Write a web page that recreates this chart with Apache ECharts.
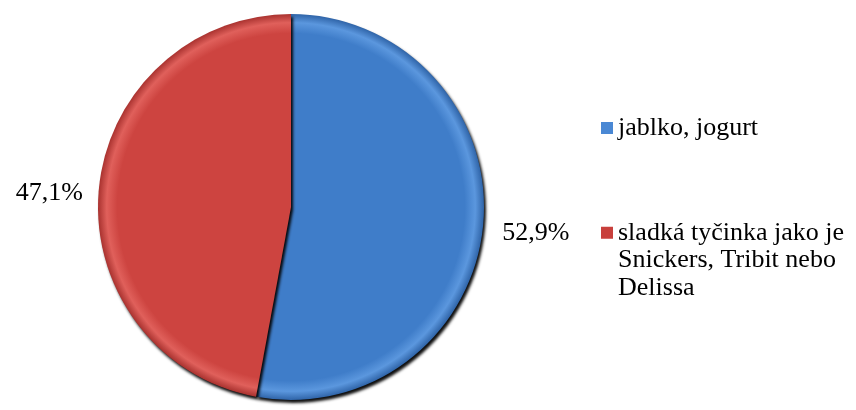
<!DOCTYPE html>
<html>
<head>
<meta charset="utf-8">
<script src="https://cdn.jsdelivr.net/npm/echarts@6/dist/echarts.min.js"></script>
<style>
  html, body { margin: 0; padding: 0; background: #ffffff; }
  #chart { width: 856px; height: 410px; }
</style>
</head>
<body>
<div id="chart"></div>
<script>
// Snack preference shares (percent)
const categories = ['jablko, jogurt', 'sladká tyčinka jako je\nSnickers, Tribit nebo\nDelissa'];
const values = [52.9, 47.1];
const baseColors = ['#3f7dc9', '#cd4440'];
const edgeColors = ['#5b97de', '#e0605b'];
const darkColors = ['#2f64a8', '#a9322f'];
const legendColors = ['#4a88d4', '#c8403c'];

const CX = 291, CY = 207, R = 193;
const FONT = 'Liberation Serif';

function sliceFill(i) {
  return {
    type: 'radial', x: CX, y: CY, r: R, global: true,
    colorStops: [
      { offset: 0, color: baseColors[i] },
      { offset: 0.9, color: baseColors[i] },
      { offset: 0.955, color: edgeColors[i] },
      { offset: 1, color: darkColors[i] }
    ]
  };
}

const labelOffsets = [[6, 8], [-3, 4]];

const legendBase = {
  orient: 'vertical',
  left: 601,
  padding: 0,
  itemWidth: 12,
  itemHeight: 12,
  icon: 'rect'
};

const chart = echarts.init(document.getElementById('chart'), null, { renderer: 'canvas' });
chart.setOption({
  animation: false,
  legend: [
    Object.assign({}, legendBase, {
      top: 114,
      data: [{ name: categories[0], itemStyle: { color: legendColors[0] } }],
      textStyle: { fontFamily: FONT, fontSize: 26, color: '#000', lineHeight: 28 }
    }),
    Object.assign({}, legendBase, {
      top: 164,
      data: [{ name: categories[1], itemStyle: { color: legendColors[1] } }],
      // two leading blank lines keep the marker level with the first line of the wrapped name
      formatter: name => '\n\n' + name,
      textStyle: { fontFamily: FONT, fontSize: 26, color: '#000', lineHeight: 27.5 }
    })
  ],
  series: [{
    type: 'pie',
    center: [CX, CY],
    radius: [0, R],
    startAngle: 90,
    clockwise: true,
    avoidLabelOverlap: false,
    label: {
      show: true,
      position: 'outside',
      formatter: p => p.value.toFixed(1).replace('.', ',') + '%',
      fontFamily: FONT,
      fontSize: 26,
      color: '#000'
    },
    labelLine: { show: false, length: 8, length2: 0 },
    itemStyle: {
      shadowColor: 'rgba(0,0,0,0.95)',
      shadowBlur: 3,
      shadowOffsetX: 2,
      shadowOffsetY: 3
    },
    data: values.map((v, i) => ({
      name: categories[i],
      value: v,
      itemStyle: { color: sliceFill(i) },
      label: { offset: labelOffsets[i] }
    }))
  }]
});
</script>
</body>
</html>
